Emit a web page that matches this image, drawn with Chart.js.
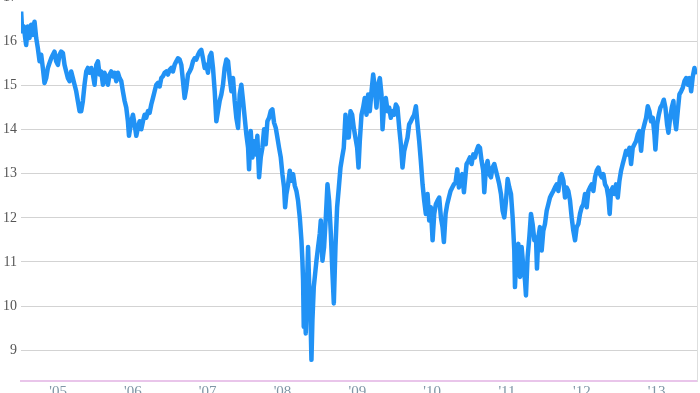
<!DOCTYPE html>
<html>
<head>
<meta charset="utf-8">
<script src="https://cdn.jsdelivr.net/npm/chart.js@4.4.0/dist/chart.umd.min.js"></script>
<style>
html, body { margin: 0; padding: 0; background: #fff; overflow: hidden; }
#frame { position: relative; width: 700px; height: 393px; overflow: hidden; }
#wrap { position: absolute; left: 0; top: -15px; width: 700px; height: 420px; }
</style>
</head>
<body>
<div id="frame"><div id="wrap"><canvas id="myChart"></canvas></div></div>
<script>
// dates as decimal years
const dates = [
  2004.507, 2004.521, 2004.543, 2004.561, 2004.574, 2004.596, 2004.619, 2004.641, 2004.663, 2004.686,
  2004.708, 2004.730, 2004.753, 2004.775, 2004.797, 2004.819, 2004.842, 2004.864, 2004.886, 2004.909,
  2004.931, 2004.953, 2004.975, 2004.998, 2005.020, 2005.042, 2005.065, 2005.087, 2005.109, 2005.132,
  2005.154, 2005.176, 2005.198, 2005.221, 2005.243, 2005.265, 2005.288, 2005.310, 2005.332, 2005.354,
  2005.377, 2005.399, 2005.421, 2005.444, 2005.466, 2005.488, 2005.511, 2005.533, 2005.555, 2005.577,
  2005.600, 2005.622, 2005.644, 2005.667, 2005.689, 2005.711, 2005.734, 2005.756, 2005.778, 2005.800,
  2005.823, 2005.845, 2005.867, 2005.890, 2005.912, 2005.934, 2005.948, 2005.979, 2006.001, 2006.023,
  2006.046, 2006.068, 2006.090, 2006.113, 2006.135, 2006.157, 2006.179, 2006.202, 2006.224, 2006.246,
  2006.269, 2006.291, 2006.313, 2006.336, 2006.358, 2006.380, 2006.402, 2006.425, 2006.447, 2006.469,
  2006.492, 2006.514, 2006.536, 2006.558, 2006.581, 2006.603, 2006.625, 2006.648, 2006.670, 2006.692,
  2006.715, 2006.737, 2006.759, 2006.781, 2006.804, 2006.826, 2006.848, 2006.871, 2006.893, 2006.915,
  2006.937, 2006.960, 2006.982, 2007.004, 2007.027, 2007.049, 2007.071, 2007.094, 2007.116, 2007.138,
  2007.160, 2007.183, 2007.205, 2007.227, 2007.250, 2007.272, 2007.294, 2007.317, 2007.339, 2007.361,
  2007.383, 2007.406, 2007.428,
  2007.450, 2007.473, 2007.495, 2007.517, 2007.540, 2007.553, 2007.575, 2007.598, 2007.620, 2007.642,
  2007.664, 2007.687, 2007.709, 2007.731, 2007.754, 2007.776, 2007.798, 2007.821, 2007.843, 2007.865,
  2007.887, 2007.910, 2007.932, 2007.954, 2007.977, 2007.999, 2008.021, 2008.035, 2008.052, 2008.075,
  2008.097, 2008.119, 2008.142, 2008.164, 2008.186, 2008.208, 2008.231, 2008.253, 2008.266, 2008.275,
  2008.284, 2008.298, 2008.311, 2008.324, 2008.342, 2008.356, 2008.373, 2008.387, 2008.400, 2008.418,
  2008.436, 2008.454, 2008.476, 2008.498, 2008.512, 2008.534, 2008.556, 2008.579, 2008.601, 2008.623,
  2008.646, 2008.668, 2008.686, 2008.708, 2008.730, 2008.753, 2008.775, 2008.797, 2008.819, 2008.842,
  2008.864, 2008.886, 2008.909, 2008.931, 2008.953, 2008.975, 2008.998, 2009.016, 2009.033, 2009.056,
  2009.078, 2009.100, 2009.123, 2009.145, 2009.167, 2009.190, 2009.212, 2009.234, 2009.256, 2009.279,
  2009.301, 2009.323, 2009.337, 2009.359, 2009.381, 2009.404, 2009.426, 2009.448, 2009.470, 2009.493,
  2009.515, 2009.537, 2009.560, 2009.582, 2009.604, 2009.627, 2009.649, 2009.671, 2009.693, 2009.716,
  2009.738, 2009.760, 2009.783, 2009.805, 2009.827, 2009.849, 2009.872, 2009.894, 2009.916, 2009.939,
  2009.961, 2009.983, 2010.006, 2010.028, 2010.050, 2010.072, 2010.095, 2010.117, 2010.139, 2010.157,
  2010.180, 2010.202, 2010.224, 2010.246, 2010.269, 2010.291, 2010.313, 2010.336, 2010.358, 2010.380,
  2010.402, 2010.425, 2010.447,
  2010.460, 2010.483, 2010.505, 2010.527, 2010.550, 2010.572, 2010.594, 2010.617, 2010.639, 2010.661,
  2010.683, 2010.697, 2010.719, 2010.741, 2010.764, 2010.786, 2010.808, 2010.831, 2010.853, 2010.875,
  2010.897, 2010.920, 2010.942, 2010.964, 2010.987, 2011.009, 2011.031, 2011.054, 2011.076, 2011.098,
  2011.107, 2011.129, 2011.152, 2011.174, 2011.196, 2011.219, 2011.241, 2011.254, 2011.276, 2011.299,
  2011.321, 2011.343, 2011.366, 2011.388, 2011.401, 2011.419, 2011.441, 2011.464, 2011.486, 2011.508,
  2011.531, 2011.553, 2011.575, 2011.598, 2011.620, 2011.642, 2011.665, 2011.687, 2011.709, 2011.731,
  2011.754, 2011.776, 2011.798, 2011.820, 2011.843, 2011.865, 2011.887, 2011.910, 2011.932, 2011.954,
  2011.976, 2011.999, 2012.021, 2012.043, 2012.066, 2012.088, 2012.110, 2012.133, 2012.155, 2012.177,
  2012.199, 2012.222, 2012.244, 2012.266, 2012.289, 2012.311, 2012.333, 2012.356, 2012.373, 2012.391,
  2012.414, 2012.436, 2012.458, 2012.481, 2012.503, 2012.525, 2012.547, 2012.570, 2012.592, 2012.614,
  2012.637, 2012.659, 2012.681, 2012.704, 2012.726, 2012.748, 2012.770, 2012.793, 2012.815, 2012.837,
  2012.860, 2012.882, 2012.904, 2012.926, 2012.949, 2012.971, 2012.984, 2013.007, 2013.029, 2013.051,
  2013.074, 2013.096, 2013.118, 2013.140, 2013.158, 2013.181, 2013.203, 2013.225, 2013.239, 2013.261,
  2013.283, 2013.305, 2013.328, 2013.350, 2013.372, 2013.395, 2013.417, 2013.439, 2013.462, 2013.484,
  2013.506, 2013.524
];

const values = [
  16.68, 16.23, 16.34, 16.08, 15.92, 16.34, 16.08, 16.38, 16.15, 16.45,
  16.08, 15.85, 15.55, 15.70, 15.40, 15.06, 15.17, 15.40, 15.51, 15.62,
  15.70, 15.77, 15.55, 15.47, 15.70, 15.77, 15.74, 15.47, 15.32, 15.17,
  15.10, 15.32, 15.17, 15.02, 14.87, 14.65, 14.42, 14.42, 14.65, 15.02,
  15.32, 15.40, 15.29, 15.40, 15.25, 15.02, 15.47, 15.55, 15.25, 15.32,
  15.02, 15.29, 15.17, 15.02, 15.25, 15.32, 15.21, 15.29, 15.10, 15.29,
  15.17, 15.10, 14.87, 14.65, 14.50, 14.19, 13.86, 14.19, 14.34, 14.12,
  13.86, 14.04, 14.19, 14.01, 14.19, 14.34, 14.27, 14.42, 14.38, 14.57,
  14.72, 14.87, 15.02, 15.06, 14.98, 15.17, 15.21, 15.29, 15.32, 15.25,
  15.36, 15.40, 15.32, 15.47, 15.55, 15.62, 15.59, 15.47, 15.10, 14.72,
  14.95, 15.25, 15.32, 15.40, 15.55, 15.62, 15.59, 15.70, 15.77, 15.81,
  15.62, 15.40, 15.47, 15.29, 15.66, 15.74, 15.40, 14.87, 14.19, 14.42,
  14.65, 14.80, 15.02, 15.40, 15.59, 15.55, 15.17, 14.87, 15.17, 14.65,
  14.27, 14.04, 14.80,
  15.02, 14.65, 14.27, 13.89, 13.59, 13.10, 13.97, 13.37, 13.74, 13.44,
  13.86, 12.92, 13.37, 13.59, 14.01, 13.67, 14.19, 14.27, 14.42, 14.46,
  14.16, 14.04, 13.82, 13.59, 13.37, 12.99, 12.69, 12.24, 12.54, 12.76,
  13.07, 12.84, 12.99, 12.73, 12.61, 12.39, 12.01, 11.49, 11.03, 10.58,
  9.53, 9.98, 9.38, 10.28, 11.34, 10.51, 9.83, 8.78, 9.68, 10.43,
  10.73, 11.03, 11.34, 11.64, 11.94, 11.03, 11.34, 12.01, 12.76, 12.39,
  11.64, 10.73, 10.06, 11.34, 12.24, 12.69, 13.14, 13.37, 13.59, 14.34,
  13.82, 13.82, 14.42, 14.34, 14.04, 13.82, 13.59, 13.14, 13.74, 14.34,
  14.50, 14.72, 14.34, 14.80, 14.42, 14.87, 15.25, 14.95, 14.50, 15.02,
  15.17, 14.80, 14.01, 14.57, 14.72, 14.42, 14.50, 14.27, 14.42, 14.34,
  14.57, 14.50, 14.04, 13.67, 13.14, 13.52, 13.67, 13.82, 14.12, 14.19,
  14.27, 14.34, 14.53, 14.12, 13.74, 13.29, 12.76, 12.39, 12.09, 12.54,
  11.94, 12.24, 11.49, 12.09, 12.31, 12.39, 12.46, 12.01, 11.79, 11.45,
  12.09, 12.31, 12.46, 12.61, 12.69, 12.76, 12.80, 13.10, 12.69, 12.92,
  12.99, 12.58, 12.99,
  13.22, 13.29, 13.37, 13.22, 13.44, 13.37, 13.52, 13.63, 13.59, 13.29,
  13.07, 12.58, 13.14, 13.29, 12.99, 12.92, 13.14, 13.22, 13.07, 12.92,
  12.76, 12.54, 12.16, 12.01, 12.39, 12.88, 12.69, 12.54, 12.01, 11.26,
  10.43, 11.26, 11.41, 10.66, 11.34, 10.88, 10.58, 10.24, 11.11, 11.56,
  12.09, 11.86, 11.49, 11.56, 10.85, 11.56, 11.79, 11.26, 11.71, 11.86,
  12.16, 12.31, 12.46, 12.54, 12.61, 12.69, 12.76, 12.61, 12.92, 12.99,
  12.84, 12.46, 12.69, 12.61, 12.39, 12.01, 11.71, 11.49, 11.79, 11.86,
  12.09, 12.24, 12.31, 12.54, 12.24, 12.61, 12.69, 12.76, 12.61, 12.92,
  13.07, 13.14, 12.99, 12.92, 12.99, 12.76, 12.69, 12.46, 12.09, 12.61,
  12.69, 12.54, 12.76, 12.46, 12.84, 13.07, 13.22, 13.37, 13.52, 13.44,
  13.59, 13.22, 13.59, 13.67, 13.74, 13.89, 13.97, 13.52, 13.97, 14.12,
  14.27, 14.53, 14.42, 14.19, 14.27, 13.89, 13.55, 14.12, 14.34, 14.50,
  14.57, 14.68, 14.50, 14.12, 13.93, 14.27, 14.50, 14.65, 14.27, 14.01,
  14.42, 14.80, 14.87, 14.95, 15.10, 15.17, 15.02, 15.17, 14.87, 15.21,
  15.40, 15.25
];

const yTicks = [9, 10, 11, 12, 13, 14, 15, 16, 17];
const xTicks = [2005, 2006, 2007, 2008, 2009, 2010, 2011, 2012, 2013];
const xLabels = ["'05", "'06", "'07", "'08", "'09", "'10", "'11", "'12", "'13"];

const points = dates.map((d, i) => ({ x: d, y: values[i] }));

const ctx = document.getElementById('myChart').getContext('2d');
new Chart(ctx, {
  type: 'line',
  data: {
    datasets: [{
      data: points,
      borderColor: '#2192f5',
      borderWidth: 4.5,
      pointRadius: 0,
      tension: 0,
      borderJoinStyle: 'round'
    }]
  },
  options: {
    responsive: true,
    maintainAspectRatio: false,
    animation: false,
    layout: { padding: { top: 8, right: 3, left: 0, bottom: 0 } },
    plugins: { legend: { display: false }, tooltip: { enabled: false } },
    scales: {
      x: {
        type: 'linear',
        min: 2004.505,
        max: 2013.54,
        afterBuildTicks: s => { s.ticks = xTicks.map(v => ({ value: v })); },
        afterFit: s => { s.height = 24; },
        grid: { display: false, drawTicks: false },
        border: { display: true, color: '#e9c5ea', width: 2 },
        ticks: {
          autoSkip: false,
          maxRotation: 0,
          padding: 2,
          color: '#7f97a6',
          font: { family: "'Liberation Serif', serif", size: 15 },
          callback: v => xLabels[xTicks.indexOf(v)]
        }
      },
      y: {
        min: 8.3,
        max: 17,
        afterBuildTicks: s => { s.ticks = yTicks.map(v => ({ value: v })); },
        afterFit: s => { s.width = 21; },
        grid: { color: '#d3d3d3', lineWidth: 1, drawTicks: false },
        border: { display: false },
        ticks: {
          padding: 4,
          color: '#555',
          font: { family: "'Liberation Serif', serif", size: 14 }
        }
      },
      y2: {
        position: 'right',
        min: 8.3,
        max: 17,
        afterFit: s => { s.width = 0; },
        grid: { drawOnChartArea: false, drawTicks: false },
        border: { display: true, color: '#dedede', width: 1 },
        ticks: { display: false }
      }
    }
  }
});
</script>
</body>
</html>
